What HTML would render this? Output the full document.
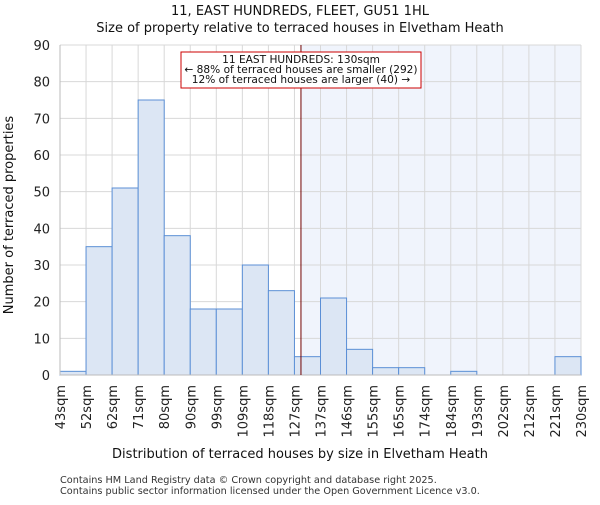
<!DOCTYPE html>
<html><head><meta charset="utf-8"><style>body{margin:0;background:#fff}svg{font-family:"DejaVu Sans","Liberation Sans",sans-serif}</style></head><body>
<svg id="c" width="600" height="500"></svg>
<script>
const binLabels=["43sqm","52sqm","62sqm","71sqm","80sqm","90sqm","99sqm","109sqm","118sqm","127sqm","137sqm","146sqm","155sqm","165sqm","174sqm","184sqm","193sqm","202sqm","212sqm","221sqm","230sqm"];
const counts=[1,35,51,75,38,18,18,30,23,5,21,7,2,2,0,1,0,0,0,5];
const yTicks=[0,10,20,30,40,50,60,70,80,90];
const markerIndex=9.25;
const NS="http://www.w3.org/2000/svg",svg=document.getElementById('c');
const L=60,R=581,T=45,B=375;
const bw=(R-L)/counts.length;
const x=i=>L+i*bw, y=v=>B-(v/90)*(B-T);
function el(t,a,txt){const e=document.createElementNS(NS,t);for(const k in a)e.setAttribute(k,a[k]);if(txt!=null)e.textContent=txt;svg.appendChild(e);return e;}
let e;
e=el('rect',{x:x(markerIndex),y:T,width:R-x(markerIndex),height:B-T,fill:'#f0f4fc'});


yTicks.forEach(t=>{e=el('line',{x1:L,x2:R,y1:y(t),y2:y(t),stroke:'#d8d8d8'});


e=el('text',{x:L-10,y:y(t)+5,'text-anchor':'end','font-size':13,fill:'#222'},t);

});
binLabels.forEach((l,i)=>{e=el('line',{x1:x(i),x2:x(i),y1:T,y2:B,stroke:'#d8d8d8'});


e=el('text',{transform:`translate(${x(i)+5},${B+10}) rotate(-90)`,'text-anchor':'end','font-size':13,fill:'#222'},l);

});
counts.forEach((c,i)=>{if(c<=0)return;e=el('rect',{x:x(i),y:y(c),width:bw,height:B-y(c),fill:'#dce6f4',stroke:'#5b8fd6','stroke-width':1});

});
e=el('line',{x1:L,x2:R,y1:B,y2:B,stroke:'#bbb'});


e=el('line',{x1:L,x2:L,y1:T,y2:B,stroke:'#bbb'});


e=el('line',{x1:x(markerIndex),x2:x(markerIndex),y1:T,y2:B,stroke:'#700000','stroke-width':1});


e=el('rect',{x:181,y:52,width:240,height:36,fill:'#fff',stroke:'#c00','stroke-width':1});


[["11 EAST HUNDREDS: 130sqm",63],["← 88% of terraced houses are smaller (292)",73],["12% of terraced houses are larger (40) →",83]].forEach(a=>{e=el('text',{x:301,y:a[1],'text-anchor':'middle','font-size':10.6,fill:'#111'},a[0]);

});
e=el('text',{x:300,y:15,'text-anchor':'middle','font-size':13,fill:'#111'},"11, EAST HUNDREDS, FLEET, GU51 1HL");


e=el('text',{x:300,y:32,'text-anchor':'middle','font-size':13,fill:'#111'},"Size of property relative to terraced houses in Elvetham Heath");


e=el('text',{x:300,y:458,'text-anchor':'middle','font-size':13,fill:'#111'},"Distribution of terraced houses by size in Elvetham Heath");


e=el('text',{transform:'translate(13,215) rotate(-90)','text-anchor':'middle','font-size':13,fill:'#111'},"Number of terraced properties");


e=el('text',{x:60,y:483,'font-size':9.7,fill:'#333'},"Contains HM Land Registry data © Crown copyright and database right 2025.");


e=el('text',{x:60,y:494,'font-size':9.7,fill:'#333'},"Contains public sector information licensed under the Open Government Licence v3.0.");


</script>
</body></html>
